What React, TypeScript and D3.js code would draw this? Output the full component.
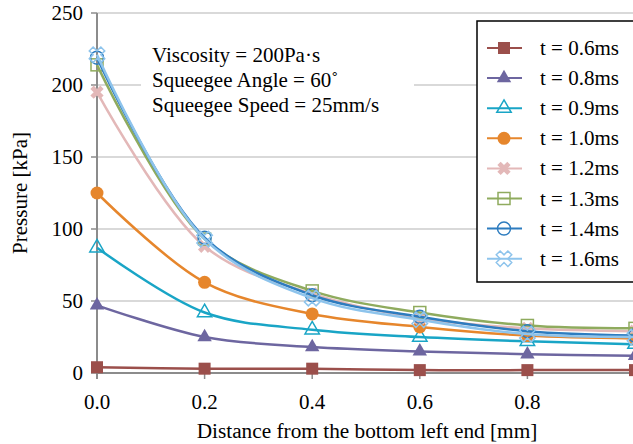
import React from "react";
import * as d3 from "d3";

const xValues = [0, 0.2, 0.4, 0.6, 0.8, 1.0];
const xTicks = [0, 0.2, 0.4, 0.6, 0.8];
const yTicks = [0, 50, 100, 150, 200, 250];

const seriesNames = ["t = 0.6ms", "t = 0.8ms", "t = 0.9ms", "t = 1.0ms", "t = 1.2ms", "t = 1.3ms", "t = 1.4ms", "t = 1.6ms"];
const t06 = [4, 3, 3, 2, 2, 2];
const t08 = [47, 25, 18, 15, 13, 12];
const t09 = [87, 42, 30, 25, 22, 20];
const t10 = [125, 63, 41, 32, 26, 24];
const t12 = [195, 88, 55, 38, 31, 29];
const t13 = [214, 93, 57, 42, 33, 31];
const t14 = [219, 94, 54, 39, 29, 26];
const t16 = [221, 93, 52, 37, 27, 25];
const seriesValues = [t06, t08, t09, t10, t12, t13, t14, t16];

const colors = ["#9b4f4b", "#6d66a0", "#19a5c6", "#e6862c", "#e3b8b8", "#8fab5e", "#2d7cbf", "#8ec4ec"];
const markers = ["square", "triangle", "triangleOpen", "circle", "x", "squareOpen", "circleOpen", "crossOpen"];

const notes = ["Viscosity = 200Pa·s", "Squeegee Angle = 60˚", "Squeegee Speed = 25mm/s"];

const W = 633;
const H = 444;
const x = d3.scaleLinear().domain([0, 1]).range([97, 635]);
const y = d3.scaleLinear().domain([0, 250]).range([373, 13]);

const line = d3
  .line<number>()
  .x((_, i) => x(xValues[i]))
  .y((d) => y(d))
  .curve(d3.curveCatmullRom.alpha(0.5));

function Marker({ kind, color, cx, cy }: { kind: string; color: string; cx: number; cy: number }) {
  const t = `translate(${cx},${cy})`;
  switch (kind) {
    case "square":
      return <rect x={cx - 6} y={cy - 6} width={12} height={12} fill={color} />;
    case "squareOpen":
      return <rect x={cx - 6} y={cy - 6} width={12} height={12} fill="none" stroke={color} strokeWidth={1.5} />;
    case "triangle":
      return <path transform={t} d={d3.symbol(d3.symbolTriangle, 90)()!} fill={color} />;
    case "triangleOpen":
      return <path transform={t} d={d3.symbol(d3.symbolTriangle, 90)()!} fill="none" stroke={color} strokeWidth={1.5} />;
    case "circle":
      return <circle cx={cx} cy={cy} r={6.5} fill={color} />;
    case "circleOpen":
      return <circle cx={cx} cy={cy} r={6.5} fill="none" stroke={color} strokeWidth={1.5} />;
    case "x":
      return <path transform={`${t} rotate(45)`} d={d3.symbol(d3.symbolCross, 110)()!} fill={color} />;
    default:
      return <path transform={`${t} rotate(45)`} d={d3.symbol(d3.symbolCross, 150)()!} fill="none" stroke={color} strokeWidth={1.5} />;
  }
}

export default function App() {
  const legendX = 477;
  const legendY = 21;
  return (
    <svg width={W} height={H} style={{ position: "absolute", left: 0, top: 0 }} fontFamily="'Liberation Serif', 'Times New Roman', serif">
      <rect width={W} height={H} fill="#fff" />
      {/* gridlines */}
      {yTicks.slice(1).map((v) => (
        <line key={v} x1={x(0)} x2={W} y1={y(v)} y2={y(v)} stroke="#b3b3b3" strokeWidth={1.2} />
      ))}
      {/* y axis */}
      <line x1={x(0)} x2={x(0)} y1={y(250)} y2={y(0) + 6} stroke="#8c8c8c" strokeWidth={2} />
      {yTicks.map((v) => (
        <g key={v}>
          <line x1={x(0) - 6} x2={x(0)} y1={y(v)} y2={y(v)} stroke="#8c8c8c" strokeWidth={1.5} />
          <text x={83} y={y(v) + 7} textAnchor="end" fontSize={21}>
            {v}
          </text>
        </g>
      ))}
      {/* x axis */}
      <line x1={x(0)} x2={W} y1={y(0)} y2={y(0)} stroke="#8c8c8c" strokeWidth={2} />
      {xTicks.map((v) => (
        <g key={v}>
          <line x1={x(v)} x2={x(v)} y1={y(0)} y2={y(0) + 6} stroke="#8c8c8c" strokeWidth={1.5} />
          <text x={x(v)} y={409} textAnchor="middle" fontSize={21}>
            {v.toFixed(1)}
          </text>
        </g>
      ))}
      <text x={367} y={438} textAnchor="middle" fontSize={21.3}>
        Distance from the bottom left end [mm]
      </text>
      <text transform={`translate(27,${y(125)}) rotate(-90)`} textAnchor="middle" fontSize={21}>
        Pressure [kPa]
      </text>
      {/* annotation */}
      <rect x={141} y={36} width={273} height={84} fill="#fff" />
      {notes.map((n, i) => (
        <text key={n} x={152} y={62 + i * 25} fontSize={21}>
          {n}
        </text>
      ))}
      {/* series */}
      {seriesValues.map((vals, si) => (
        <g key={si}>
          <path d={line(vals)!} fill="none" stroke={colors[si]} strokeWidth={2.5} />
          {vals.map((v, i) => (
            <Marker key={i} kind={markers[si]} color={colors[si]} cx={x(xValues[i])} cy={y(v)} />
          ))}
        </g>
      ))}
      {/* legend */}
      <rect x={legendX} y={legendY} width={200} height={261} fill="#fff" stroke="#000" strokeWidth={1.5} />
      {seriesNames.map((name, i) => {
        const cy = 48 + i * 30.1;
        return (
          <g key={name}>
            <line x1={487} x2={522} y1={cy} y2={cy} stroke={colors[i]} strokeWidth={2} />
            <Marker kind={markers[i]} color={colors[i]} cx={504} cy={cy} />
            <text x={540} y={cy + 7} fontSize={21}>
              {name}
            </text>
          </g>
        );
      })}
    </svg>
  );
}
